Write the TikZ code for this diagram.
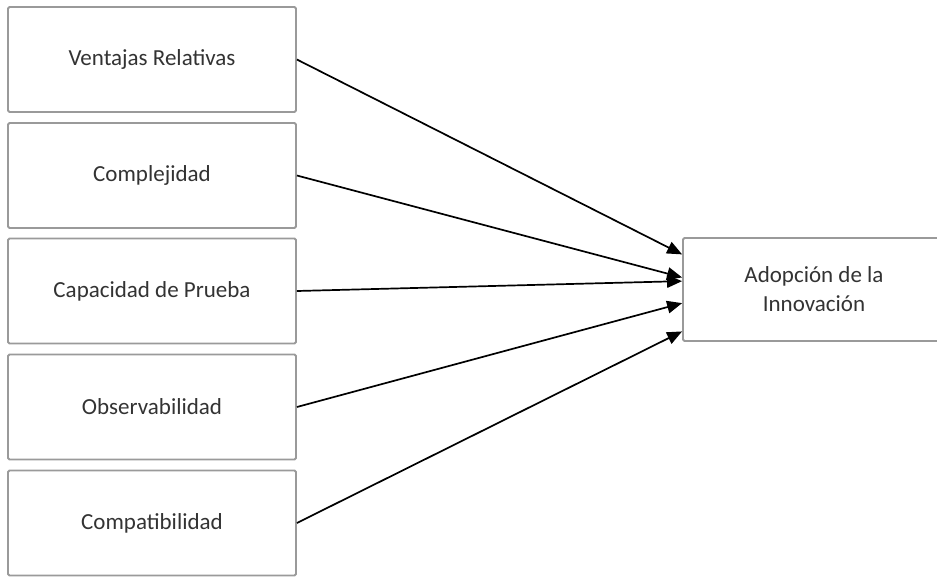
\documentclass[tikz,border=0pt]{standalone}
\usepackage{fontspec}
\setmainfont{Carlito}
\usetikzlibrary{arrows.meta,calc}
\definecolor{boxline}{HTML}{9A9A9A}
\definecolor{labeltext}{HTML}{333333}
\begin{document}
\begin{tikzpicture}[x=1pt,y=-1pt,
  factor/.style={draw=boxline, line width=1.8pt, rounded corners=1.5pt,
    minimum width=288pt, minimum height=105pt, inner sep=0pt,
    font=\fontsize{23}{29}\selectfont, text=labeltext, align=center},
  link/.style={line width=1.7pt, draw=black,
    -{Triangle[length=15pt,width=12.5pt]}}]
\useasboundingbox (0,0) rectangle (937,576);
\fill[white] (0,0) rectangle (937,576);

% five attributes of the innovation
\node[factor] (ventajas) at (152,59.5) {Ventajas Relativas};
\node[factor] (complej)  at (152,175.5) {Complejidad};
\node[factor] (prueba)   at (152,291) {Capacidad de Prueba};
\node[factor] (observ)   at (152,407) {Observabilidad};
\node[factor] (compat)   at (152,523) {Compatibilidad};

% outcome, running off the right edge
\begin{scope}
\clip (0,0) rectangle (937,576);
\node[factor, minimum width=262pt, minimum height=103pt] (adop) at (814,289.5)
  {Adopción de la\\Innovación};
\end{scope}

% arrival points along the left side of the outcome box
\coordinate (e1) at ($(adop.north west)!0.165!(adop.south west)$);
\coordinate (e2) at ($(adop.north west)!0.385!(adop.south west)$);
\coordinate (e3) at ($(adop.north west)!0.42!(adop.south west)$);
\coordinate (e4) at ($(adop.north west)!0.63!(adop.south west)$);
\coordinate (e5) at ($(adop.north west)!0.90!(adop.south west)$);

\draw[link] (ventajas.east) -- (e1);
\draw[link] (complej.east)  -- (e2);
\draw[link] (prueba.east)   -- (e3);
\draw[link] (observ.east)   -- (e4);
\draw[link] (compat.east)   -- (e5);
\end{tikzpicture}
\end{document}
